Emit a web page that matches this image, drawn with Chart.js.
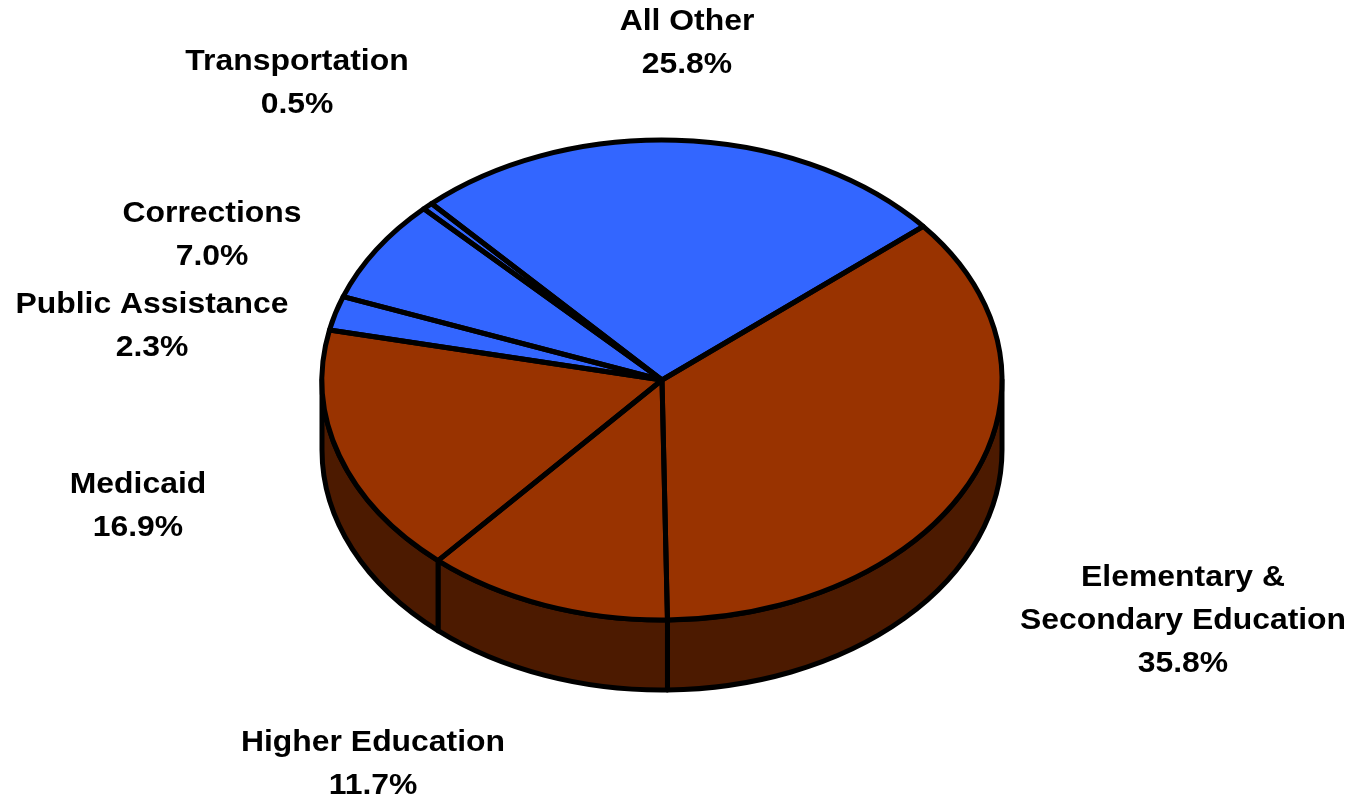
<!DOCTYPE html>
<html>
  <head>
    <meta charset="utf-8">
    <title>spending pie</title>
    <script src="https://cdn.jsdelivr.net/npm/chart.js@4.4.1/dist/chart.umd.min.js"></script>
    <style>
      body { margin: 0; background: #ffffff; }
      #wrap { width: 1352px; height: 799px; }
    </style>
  </head>
  <body>
    <div id="wrap"><canvas id="myChart" width="1352" height="799"></canvas></div>
  <script>
    // data
    const categories = ['Elementary & Secondary Education', 'Higher Education', 'Medicaid',
                        'Public Assistance', 'Corrections', 'Transportation', 'All Other'];
    const shares = [35.8, 11.7, 16.9, 2.3, 7.0, 0.5, 25.8];
    const labelLines = [['Elementary &', 'Secondary Education'], ['Higher Education'], ['Medicaid'],
                        ['Public Assistance'], ['Corrections'], ['Transportation'], ['All Other']];
    const topColors = ['#993300', '#993300', '#993300', '#3366ff', '#3366ff', '#3366ff', '#3366ff'];
    const sideColors = ['#4c1a00', '#4c1a00', '#4c1a00', '#1a33aa', '#1a33aa', '#1a33aa', '#1a33aa'];

    // layout of the text blocks (center x, y of first line)
    const labelPos = [[1183, 578], [373, 743], [138, 485], [152, 305], [212, 214], [297, 62], [687, 22]];

    const SQUASH = 240 / 340;
    const DEPTH = 70;
    const LINE = 5;

    function frontParts(a, b) {
      // pieces of [a,b] that fall on the front half (canvas angles 0..PI)
      const out = [];
      for (let k = -1; k <= 1; k++) {
        const lo = Math.max(a, k * 2 * Math.PI);
        const hi = Math.min(b, k * 2 * Math.PI + Math.PI);
        if (hi > lo) out.push([lo, hi]);
      }
      return out;
    }

    const pie3d = {
      id: 'pie3d',
      beforeDatasetsDraw(chart) {
        const ctx = chart.ctx;
        const arcs = chart.getDatasetMeta(0).data;
        const cx = arcs[0].x, cy = arcs[0].y, r = arcs[0].outerRadius, ry = r * SQUASH;
        ctx.save();
        ctx.lineWidth = LINE;
        ctx.lineJoin = 'round';
        ctx.strokeStyle = '#000';
        arcs.forEach(function(arc, i) {
          frontParts(arc.startAngle, arc.endAngle).forEach(function(p) {
            ctx.beginPath();
            ctx.ellipse(cx, cy, r, ry, 0, p[0], p[1]);
            ctx.lineTo(cx + r * Math.cos(p[1]), cy + ry * Math.sin(p[1]) + DEPTH);
            ctx.ellipse(cx, cy + DEPTH, r, ry, 0, p[1], p[0], true);
            ctx.closePath();
            ctx.fillStyle = sideColors[i];
            ctx.fill();
            ctx.stroke();
          });
        });
        ctx.restore();
        // squash the library's own pie into an ellipse
        ctx.save();
        ctx.translate(cx, cy);
        ctx.scale(1, SQUASH);
        ctx.translate(-cx, -cy);
      },
      afterDatasetsDraw(chart) {
        const ctx = chart.ctx;
        ctx.restore();
        const arcs = chart.getDatasetMeta(0).data;
        const cx = arcs[0].x, cy = arcs[0].y, r = arcs[0].outerRadius, ry = r * SQUASH;
        ctx.save();
        ctx.lineWidth = LINE;
        ctx.lineJoin = 'round';
        ctx.strokeStyle = '#000';
        arcs.forEach(function(arc) {
          ctx.beginPath();
          ctx.moveTo(cx, cy);
          ctx.ellipse(cx, cy, r, ry, 0, arc.startAngle, arc.endAngle);
          ctx.closePath();
          ctx.stroke();
        });
        // labels, a little wider than the plain font
        ctx.fillStyle = '#000';
        ctx.font = 'bold 29px "Liberation Sans", Arial, sans-serif';
        ctx.textAlign = 'center';
        ctx.textBaseline = 'middle';
        labelLines.forEach(function(lines, i) {
          const pos = labelPos[i];
          const all = lines.concat([shares[i].toFixed(1) + '%']);
          all.forEach(function(t, j) {
            ctx.save();
            ctx.translate(pos[0], pos[1] + j * 43);
            ctx.scale(1.1, 1);
            ctx.fillText(t, 0, 0);
            ctx.restore();
          });
        });
        ctx.restore();
      }
    };

    const ctx = document.getElementById('myChart').getContext('2d');
    new Chart(ctx, {
      type: 'pie',
      data: {
        labels: categories,
        datasets: [{
          data: shares,
          backgroundColor: topColors,
          borderWidth: 0,
          hoverOffset: 0
        }]
      },
      options: {
        responsive: false,
        animation: false,
        rotation: 50.2,
        layout: { padding: { left: 322, right: 350, top: 40, bottom: 79 } },
        plugins: {
          legend: { display: false },
          tooltip: { enabled: false }
        },
        events: []
      },
      plugins: [pie3d]
    });
  </script>
  </body>
</html>
